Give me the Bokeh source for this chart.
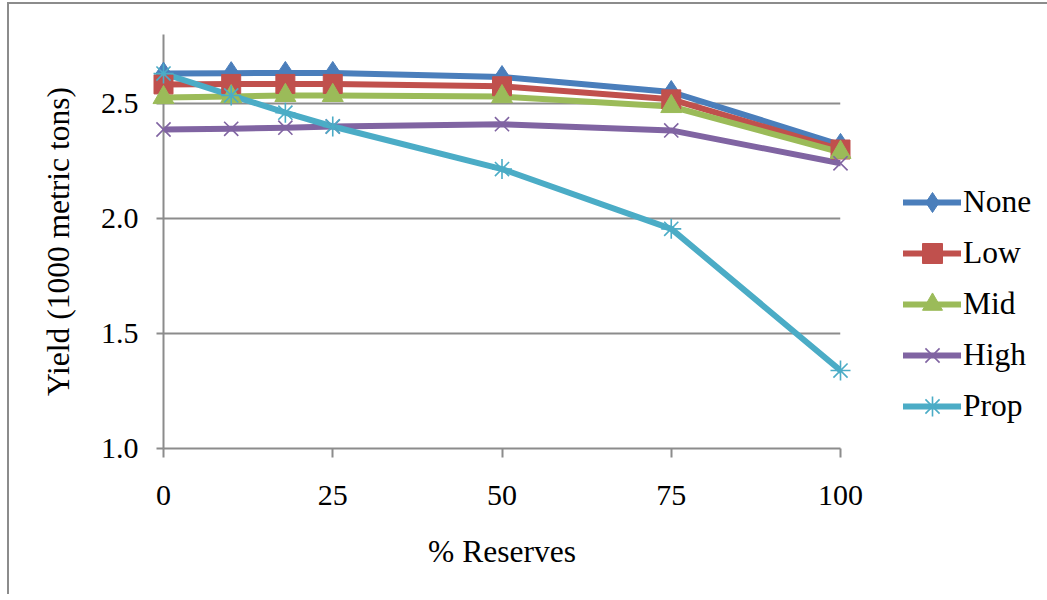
from bokeh.plotting import figure
from bokeh.models import Range1d, Legend, LegendItem, FixedTicker, NumeralTickFormatter
from bokeh.embed import file_html
from bokeh.resources import INLINE

reserves = [0, 10, 18, 25, 50, 75, 100]
none_vals = [2.630, 2.632, 2.633, 2.633, 2.615, 2.550, 2.320]
low_vals = [2.583, 2.585, 2.585, 2.585, 2.575, 2.518, 2.300]
mid_vals = [2.526, 2.530, 2.535, 2.535, 2.530, 2.487, 2.288]
high_vals = [2.387, 2.390, 2.395, 2.400, 2.410, 2.383, 2.240]
prop_vals = [2.630, 2.535, 2.460, 2.400, 2.215, 1.955, 1.339]

series_names = ["None", "Low", "Mid", "High", "Prop"]
series_vals = [none_vals, low_vals, mid_vals, high_vals, prop_vals]
colors = ["#4A7EBB", "#C0504D", "#9BBB59", "#8064A2", "#4BACC6"]
markers = ["diamond", "square", "triangle", "x", "asterisk"]
msizes = [23, 19, 21, 20, 20]

x_ticks = [0, 25, 50, 75, 100]
y_ticks = [1.0, 1.5, 2.0, 2.5]

FONT = "Liberation Serif"
TICK_FS = "30px"
LABEL_FS = "31.5px"

p = figure(frame_width=677, frame_height=414,
           min_border_left=154, min_border_top=30, min_border_bottom=146,
           min_border_right=196,
           x_range=Range1d(0, 100), y_range=Range1d(1.0, 2.8),
           output_backend="svg", toolbar_location=None, tools="")
p.styles = {"border-left": "2px solid #8C8C8C", "border-top": "2px solid #8C8C8C",
            "margin-left": "7px", "margin-top": "2px"}

p.outline_line_color = None
p.background_fill_color = "white"
p.border_fill_color = "white"

p.xgrid.visible = False
p.ygrid.ticker = FixedTicker(ticks=[1.5, 2.0, 2.5])
p.ygrid.grid_line_color = "#8C8C8C"
p.ygrid.grid_line_width = 2

for ax in (p.xaxis[0], p.yaxis[0]):
    ax.axis_line_color = "#8C8C8C"
    ax.axis_line_width = 2
    ax.major_tick_line_color = "#8C8C8C"
    ax.major_tick_line_width = 2
    ax.minor_tick_line_color = None
    ax.major_tick_in = 0
    ax.major_label_text_font = FONT
    ax.major_label_text_font_size = TICK_FS
    ax.major_label_text_color = "black"
    ax.axis_label_text_font = FONT
    ax.axis_label_text_font_size = LABEL_FS
    ax.axis_label_text_font_style = "normal"
    ax.axis_label_text_color = "black"

p.xaxis.ticker = FixedTicker(ticks=x_ticks)
p.xaxis.major_tick_out = 9
p.xaxis.major_label_standoff = 28
p.xaxis.axis_label = "% Reserves"
p.xaxis.axis_label_standoff = 26

p.yaxis.ticker = FixedTicker(ticks=y_ticks)
p.yaxis.formatter = NumeralTickFormatter(format="0.0")
p.yaxis.major_tick_out = 7
p.yaxis.major_label_standoff = 18
p.yaxis.axis_label = "Yield (1000 metric tons)"
p.yaxis.axis_label_standoff = 22

items = []
for name, vals, c, m, s in zip(series_names, series_vals, colors, markers, msizes):
    lr = p.line(reserves, vals, line_color=c, line_width=6, line_join="round", line_cap="round")
    if m in ("x", "asterisk"):
        sr = p.scatter(reserves, vals, marker=m, size=s, line_color=c, line_width=1.6,
                       fill_color=None, level="overlay")
    else:
        sr = p.scatter(reserves, vals, marker=m, size=s, line_color=c, fill_color=c,
                       line_width=1, level="overlay")
    items.append(LegendItem(label=name, renderers=[lr, sr]))

legend = Legend(items=items, location=(63, 17))
legend.label_text_font = FONT
legend.label_text_font_size = LABEL_FS
legend.label_text_color = "black"
legend.glyph_width = 58
legend.glyph_height = 50
legend.label_height = 30
legend.label_standoff = 2
legend.spacing = 1
legend.padding = 0
legend.margin = 0
legend.border_line_color = None
legend.background_fill_alpha = 0
p.add_layout(legend, "right")

open("out.html", "w").write(file_html(p, INLINE))
